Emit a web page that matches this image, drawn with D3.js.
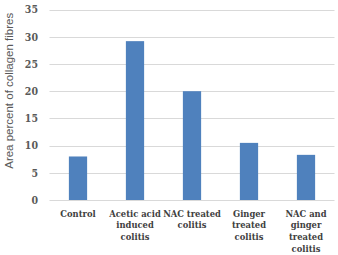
<!DOCTYPE html>
<html><head><meta charset="utf-8">
<script src="https://cdn.jsdelivr.net/npm/d3@7"></script>
<style>body{margin:0;background:#fff}svg{display:block}</style>
</head><body>
<script>
const categories = [["Control"],["Acetic acid","induced","colitis"],["NAC treated","colitis"],["Ginger","treated","colitis"],["NAC and","ginger","treated","colitis"]];
const values = [8.0, 29.2, 20.0, 10.5, 8.3];
const yTicks = [0,5,10,15,20,25,30,35];
const yTitle = "Area percent of collagen fibres";

const W = 338, H = 255;
const serif = "'DejaVu Serif Condensed', 'DejaVu Serif', serif";
const m = {left: 49.5, right: 3.5, top: 9.6, bottom: 55};
const svg = d3.select("body").append("svg").attr("width", W).attr("height", H);
const x = d3.scaleBand().domain(d3.range(categories.length)).range([m.left, W - m.right]).paddingInner(0.68).paddingOuter(0.34);
const y = d3.scaleLinear().domain([0, 35]).range([H - m.bottom, m.top]);

svg.append("g").selectAll("line").data(yTicks).join("line")
  .attr("x1", m.left).attr("x2", W - m.right)
  .attr("y1", d => Math.round(y(d)) + 0.5).attr("y2", d => Math.round(y(d)) + 0.5)
  .attr("stroke", "#d9d9d9").attr("stroke-width", 1);

svg.append("g").selectAll("text").data(yTicks).join("text")
  .attr("x", 38).attr("y", d => y(d) + 3.8)
  .attr("text-anchor", "end")
  .style("font-family", serif).style("font-stretch", "condensed").attr("font-weight", "bold").attr("font-size", 10.5)
  .attr("fill", "#595959").text(d => d);

svg.append("g").selectAll("rect").data(values).join("rect")
  .attr("x", (d, i) => x(i)).attr("width", x.bandwidth())
  .attr("y", d => y(d)).attr("height", d => y(0) - y(d))
  .attr("fill", "#4f81bd");

const lab = svg.append("g").selectAll("text").data(categories).join("text")
  .attr("text-anchor", "middle")
  .style("font-family", serif).style("font-stretch", "condensed").attr("font-weight", "bold").attr("font-size", 9.3)
  .attr("fill", "#404040")
  .attr("transform", (d, i) => `translate(${x(i) + x.bandwidth() / 2},216.5)`);
lab.selectAll("tspan").data(d => d).join("tspan")
  .attr("x", 0).attr("y", (d, j) => j * 11.7).text(d => d);

svg.append("text")
  .attr("transform", `translate(13,${(y(0) + y(35)) / 2 - 14}) rotate(-90)`)
  .attr("text-anchor", "middle")
  .style("font-family", "'Liberation Sans', sans-serif").attr("font-size", 11.5)
  .attr("fill", "#595959").text(yTitle);
</script>
</body></html>
